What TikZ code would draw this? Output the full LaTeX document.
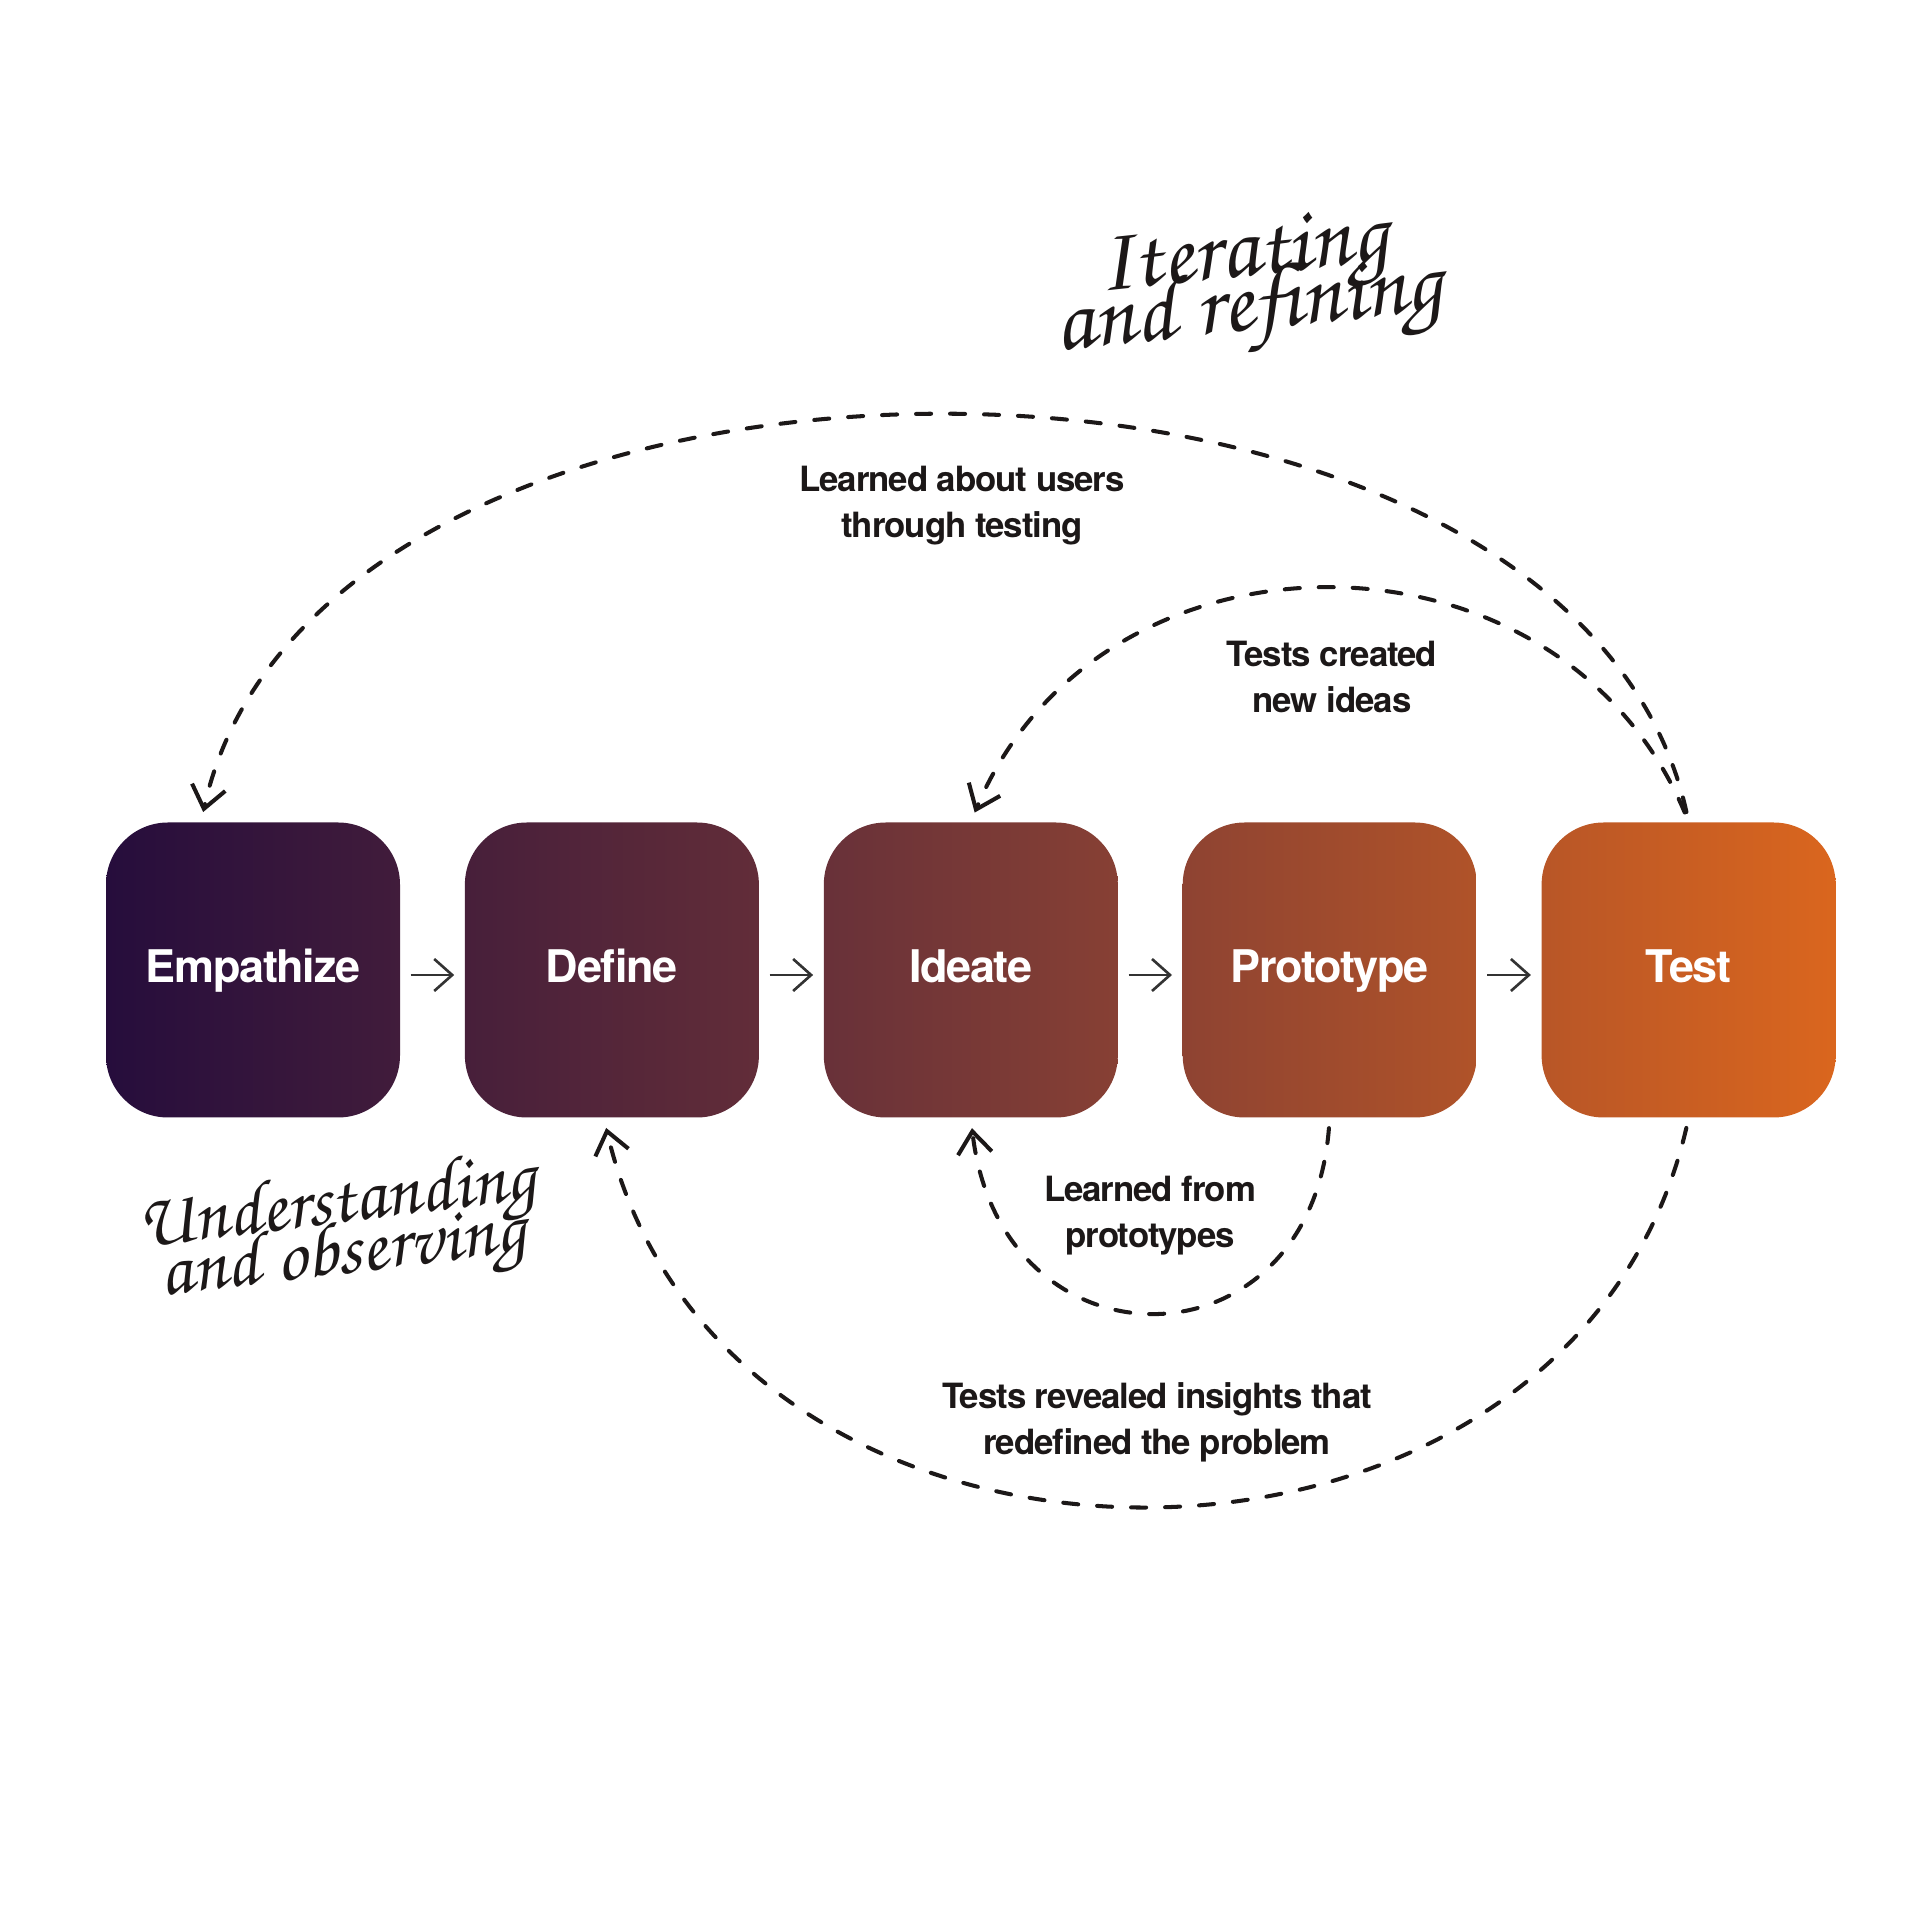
\documentclass[tikz,border=0pt]{standalone}
\usepackage{fontspec}
\setmainfont{TeX Gyre Heros}[LetterSpace=-3]
\newfontfamily\handfont{texgyrechorus-mediumitalic.otf}
\newcommand\handnote[2]{\handfont\fontsize{#1}{#2}\selectfont\lineskiplimit=-50pt\relax}
\usetikzlibrary{positioning,arrows.meta}
\definecolor{inkdark}{HTML}{1C1818}
\definecolor{arrowgray}{HTML}{333333}

\begin{document}
\begin{tikzpicture}[
  phase/.style={rounded corners=0.62cm,minimum width=2.94cm,minimum height=2.95cm,inner sep=0pt,text=white,
    font=\fontsize{12.8pt}{15pt}\selectfont\bfseries,text height=0.32cm,text depth=0.07cm},
  flow/.style={draw=arrowgray,line width=0.75pt,-{Straight Barb[length=0.18cm,width=0.32cm]},shorten <=0.1cm,shorten >=0.1cm},
  feedback/.style={draw=inkdark,line width=1.15pt,line cap=round,dash pattern=on 0.15cm off 0.19cm,
    -{Straight Barb[length=0.22cm,width=0.34cm]},shorten <=0.1cm,shorten >=0.1cm},
  notetext/.style={align=center,anchor=base,text=inkdark,font=\fontsize{9.9pt}{13.1pt}\selectfont\bfseries},
  hand/.style={align=center,text=inkdark,inner sep=0pt}
]
\useasboundingbox (0,0) rectangle (19.26,19.30);
% the five phases, one gradient across the row
\node[phase,left color={rgb,255:red,38;green,13;blue,60},right color={rgb,255:red,65;green,28;blue,59}] (emp) at (2.53,9.6) {Empathize};
\node[phase,left color={rgb,255:red,71;green,31;blue,58},right color={rgb,255:red,98;green,45;blue,57},right=0.635cm of emp] (def) {Define};
\node[phase,left color={rgb,255:red,104;green,49;blue,57},right color={rgb,255:red,135;green,64;blue,52},right=0.635cm of def] (ide) {Ideate};
\node[phase,left color={rgb,255:red,142;green,67;blue,50},right color={rgb,255:red,176;green,83;blue,41},right=0.635cm of ide] (pro) {Prototype};
\node[phase,left color={rgb,255:red,184;green,86;blue,39},right color={rgb,255:red,218;green,102;blue,30},right=0.635cm of pro] (tes) {Test};
\foreach \a/\b in {emp/def,def/ide,ide/pro,pro/tes}{\draw[flow] ([yshift=-0.05cm]\a.east) -- ([yshift=-0.05cm]\b.west);}
% loops back
\draw[feedback] (tes.north) .. controls +(-1.2,5.4) and +(1.2,5.4) .. ([xshift=-0.52cm]emp.north);
\draw[feedback] (tes.north) .. controls +(-1.3,3.09) and +(1.3,3.09) .. (ide.north);
\draw[feedback] (pro.south) .. controls +(-0.2,-2.57) and +(0.3,-2.57) .. (ide.south);
\draw[feedback] (tes.south) .. controls +(-1.2,-5.15) and +(1.2,-5.15) .. ([xshift=-0.08cm]def.south);
\node[notetext] (users) at (9.62,13.92) {Learned about users\\through testing};
\node[notetext] (ideas) at (13.32,12.17) {Tests created\\new ideas};
\node[notetext] (proto) at (11.50,6.82) {Learned from\\prototypes};
\node[notetext] (insight) at (11.57,4.75) {Tests revealed insights that\\redefined the problem};
% handwritten notes
\node[hand,rotate=6,font=\handnote{26pt}{15.5pt}] (iter) at (12.46,16.44) {Iterating\\and refining};
\node[hand,rotate=7,font=\handnote{21.5pt}{14.5pt}] (under) at (3.40,6.98) {Understanding\\and observing};
\end{tikzpicture}
\end{document}
